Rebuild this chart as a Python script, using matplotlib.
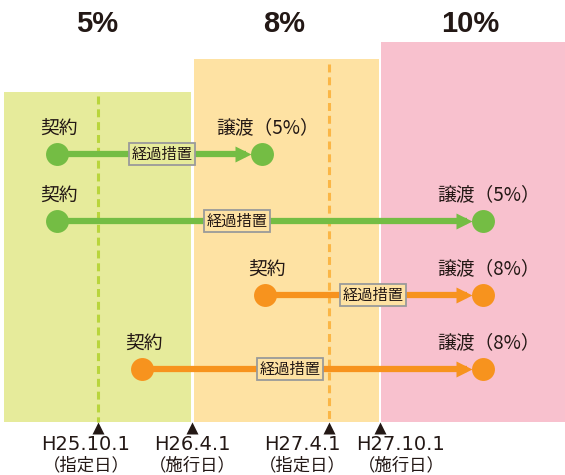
import matplotlib
matplotlib.use("Agg")
import matplotlib.pyplot as plt

plt.rcParams["font.family"] = ["Noto Sans CJK JP", "DejaVu Sans"]

# tax-rate periods (schematic timeline units)
rates = ["5%", "8%", "10%"]
rate_start = [4, 194, 381]
rate_end = [191, 379, 565]
rate_height = [330, 363, 380]

# key dates on the timeline
dates = ["H25.10.1", "H26.4.1", "H27.4.1", "H27.10.1"]
date_notes = ["（指定日）", "（施行日）", "（指定日）", "（施行日）"]
date_pos = [98, 192, 329, 380]
designation_pos = [98, 329]

# transactions: contract -> transfer
contract_pos = [57, 57, 265, 142]
transfer_pos = [262, 483, 483, 483]
transfer_rate = ["5%", "5%", "8%", "8%"]
box_pos = [162, 237, 373, 290]

BAND = ["#e6eb9b", "#fee2a3", "#f8c1ce"]
LINE = {"5%": "#74bd44", "8%": "#f7931e"}
DASH = ["#b9d53c", "#fbb646"]
TEXT = "#231815"

base_y = 422
row_y = [154, 221, 295, 369]
label_shift = [-12, 0, -27, 21]

fig = plt.figure(figsize=(5.65, 4.75), dpi=100)
ax = fig.add_axes([0, 0, 1, 1])
ax.set_xlim(0, 565)
ax.set_ylim(475, 0)
ax.axis("off")

for i, r in enumerate(rates):
    ax.bar(rate_start[i], rate_height[i], width=rate_end[i] - rate_start[i],
           bottom=base_y - rate_height[i], align="edge", color=BAND[i], zorder=0)

for x, r in zip([97, 284, 470], rates):
    ax.text(x, 24, r, ha="center", va="center", fontsize=21, fontweight="bold",
            family="Liberation Sans", color=TEXT)

for x, c, top in zip(designation_pos, DASH, [96, 64]):
    ax.plot([x, x], [top, base_y], color=c, lw=2.2, ls=(0, (2.6, 1.6)), zorder=1)


def band_color(x):
    for i in range(len(rates)):
        if rate_start[i] <= x <= rate_end[i]:
            return BAND[i]
    return "white"


for y, x0, x1, rt, bx in zip(row_y, contract_pos, transfer_pos, transfer_rate, box_pos):
    col = LINE[rt]
    ax.plot([x0, x1 - 16], [y, y], color=col, lw=4.5, solid_capstyle="butt", zorder=2)
    ax.plot(x1 - 19, y, marker=">", ms=11, color=col, mec="none", zorder=3)
    ax.plot([x0, x1], [y, y], ls="none", marker="o", ms=16.5, color=col, mec="none", zorder=4)
    ax.text(x0 + 2, y - 26, "契約", ha="center", va="center", fontsize=13.5, color=TEXT)
    ax.text(x1 + 6, y - 26, f"譲渡（{rt}）", ha="center", va="center", fontsize=13.5, color=TEXT)
    ax.text(bx, y, "経過措置", ha="center", va="center", fontsize=11, color=TEXT, zorder=5,
            bbox=dict(boxstyle="square,pad=0.18", fc=band_color(bx), ec="#9a9a9a", lw=1.3))

for x, d, n, s in zip(date_pos, dates, date_notes, label_shift):
    ax.plot(x, 427.5, marker="^", ms=8, color=TEXT, mec="none")
    ax.text(x + s, 445, d, ha="center", va="center", fontsize=14, color=TEXT,
            family="DejaVu Sans")
    ax.text(x + s, 465, n, ha="center", va="center", fontsize=12.5, color=TEXT)

fig.savefig("out.png", dpi=100)
